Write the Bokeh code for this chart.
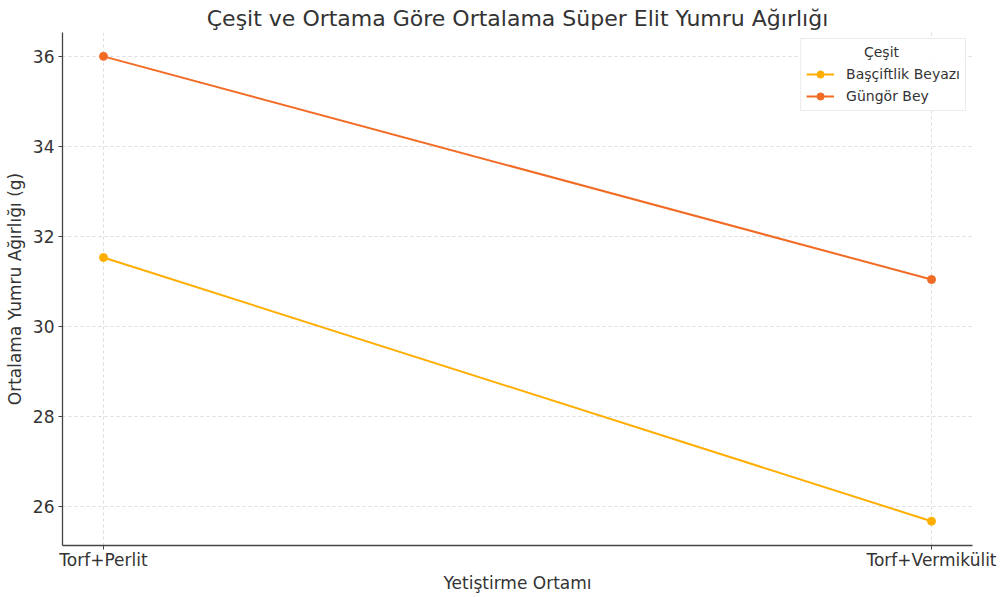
from bokeh.plotting import figure
from bokeh.models import Range1d, FixedTicker, Legend, LegendItem, Title
from bokeh.embed import file_html
from bokeh.resources import INLINE

# Growing media (x categories) and mean super-elite tuber weight per cultivar
ortam = ["Torf+Perlit", "Torf+Vermikülit"]
cesitler = ["Başçiftlik Beyazı", "Güngör Bey"]
bascitflik_beyazi = [31.53, 25.67]
gungor_bey = [36.0, 31.04]
renkler = ["#FFAE00", "#F26B25"]
y_ticks = [26, 28, 30, 32, 34, 36]

FONT = "DejaVu Sans"
TEXT = "#333333"
AXIS = "#444444"

x = list(range(len(ortam)))
x_pad = 0.0495

p = figure(
    width=1005, height=597,
    output_backend="svg", toolbar_location=None,
    x_range=Range1d(-x_pad, len(ortam) - 1 + x_pad),
    y_range=Range1d(25.13, 36.53),
    min_border_left=62, min_border_right=33,
    min_border_top=32, min_border_bottom=52,
)
p.title = None
p.add_layout(Title(text="Çeşit ve Ortama Göre Ortalama Süper Elit Yumru Ağırlığı",
                   align="center", text_font=FONT, text_font_size="22px",
                   text_font_style="normal", text_color=TEXT,
                   standoff=3, offset=0), "above")
p.outline_line_color = None
p.background_fill_color = "white"
p.border_fill_color = "white"

# axes
p.xaxis.ticker = FixedTicker(ticks=x)
p.xaxis.major_label_overrides = {i: lab for i, lab in enumerate(ortam)}
p.yaxis.ticker = FixedTicker(ticks=y_ticks)
for ax in (p.xaxis, p.yaxis):
    ax.minor_tick_line_color = None
    ax.major_tick_in = 0
    ax.major_tick_out = 4
    ax.major_tick_line_color = AXIS
    ax.axis_line_color = AXIS
    ax.axis_line_width = 1.3
    ax.major_label_text_font = FONT
    ax.major_label_text_font_size = "17px"
    ax.major_label_text_color = TEXT
    ax.axis_label_text_font = FONT
    ax.axis_label_text_font_size = "17px"
    ax.axis_label_text_font_style = "normal"
    ax.axis_label_text_color = TEXT
p.xaxis.axis_label = "Yetiştirme Ortamı"
p.yaxis.axis_label = "Ortalama Yumru Ağırlığı (g)"
p.xaxis.major_label_standoff = 0
p.yaxis.major_label_standoff = 4
p.xaxis.axis_label_standoff = 0
p.yaxis.axis_label_standoff = 5

# grid
for g in (p.xgrid, p.ygrid):
    g.grid_line_color = "#c8c8c8"
    g.grid_line_dash = "3 3"
    g.grid_line_alpha = 0.8
    g.grid_line_width = 0.8

items = []
for name, vals, col in zip(cesitler, [bascitflik_beyazi, gungor_bey], renkler):
    r1 = p.line(x, vals, line_color=col, line_width=2)
    r2 = p.scatter(x, vals, size=8, fill_color=col, line_color=col)
    items.append(LegendItem(label=name, renderers=[r1, r2]))

# legend title is pushed towards the middle of the box with non-breaking spaces
legend = Legend(items=items, location="top_right",
                title="\u00a0" * 13 + "Çeşit")
legend.title_text_font = FONT
legend.title_text_font_size = "14px"
legend.title_text_font_style = "normal"
legend.title_text_color = TEXT
legend.label_text_font = FONT
legend.label_text_font_size = "14px"
legend.label_text_color = TEXT
legend.border_line_color = "#d8d8d8"
legend.background_fill_alpha = 0.9
legend.margin = 6
legend.padding = 5
legend.spacing = 4
legend.glyph_width = 28
legend.label_standoff = 12
legend.label_height = 18
legend.glyph_height = 18
p.add_layout(legend, "center")

open("out.html", "w").write(file_html(p, INLINE))
